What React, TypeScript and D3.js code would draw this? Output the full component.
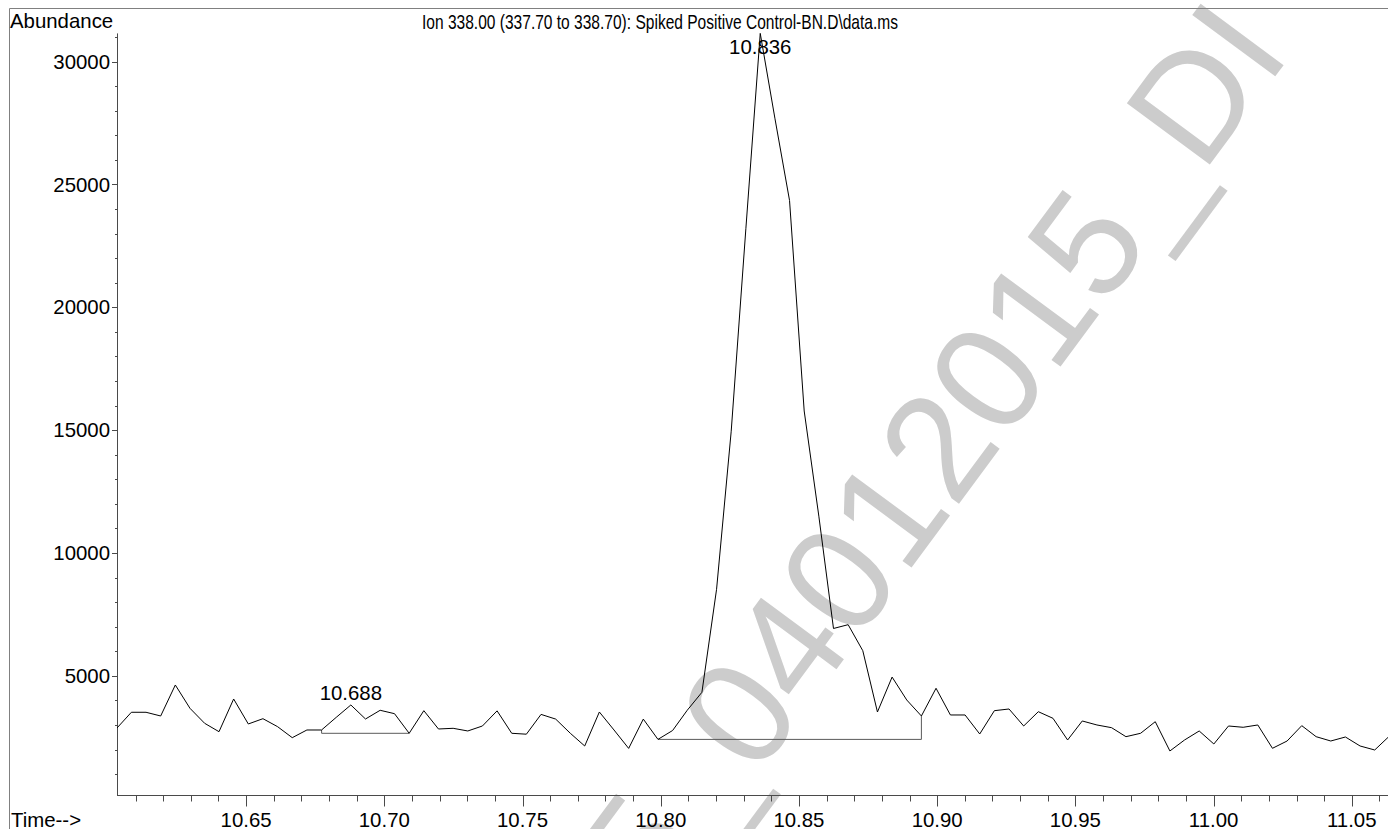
import React from "react";
import * as d3 from "d3";

// Extracted ion chromatogram, m/z 338 — scan times (min) and abundances
const times = [
  10.6032, 10.6085, 10.6138, 10.6191, 10.6244, 10.6297, 10.635, 10.6402, 10.6455, 10.6508,
  10.6561, 10.6614, 10.6667, 10.672, 10.6773, 10.6826, 10.6879, 10.6932, 10.6985, 10.7037,
  10.709, 10.7143, 10.7196, 10.7249, 10.7302, 10.7355, 10.7408, 10.7461, 10.7514, 10.7567,
  10.762, 10.7673, 10.7725, 10.7778, 10.7831, 10.7884, 10.7937, 10.799, 10.8043, 10.8096,
  10.8149, 10.8202, 10.8255, 10.8308, 10.836, 10.8413, 10.8466, 10.8519, 10.8572, 10.8625,
  10.8678, 10.8731, 10.8784, 10.8837, 10.889, 10.8943, 10.8996, 10.9048, 10.9101, 10.9154,
  10.9207, 10.926, 10.9313, 10.9366, 10.9419, 10.9472, 10.9525, 10.9578, 10.9631, 10.9683,
  10.9736, 10.9789, 10.9842, 10.9895, 10.9948, 11.0001, 11.0054, 11.0107, 11.016, 11.0213,
  11.0266, 11.0319, 11.0371, 11.0424, 11.0477, 11.053, 11.0583, 11.0636,
];

const abundance = [
  2865, 3517, 3517, 3366, 4628, 3679, 3069, 2727, 4058, 3041,
  3256, 2931, 2483, 2796, 2796, 3310, 3814, 3244, 3598, 3460,
  2662, 3582, 2837, 2865, 2756, 2959, 3575, 2662, 2625, 3431,
  3240, 2662, 2145, 3529, 2796, 2047, 3240, 2414, 2776, 3600,
  4330, 8523, 14958, 23200, 31150, 27700, 24350, 15780, 11500, 6928,
  7083, 6024, 3529, 4950, 4017, 3366, 4494, 3407, 3407, 2633,
  3582, 3651, 2959, 3541, 3272, 2389, 3163, 3000, 2890, 2524,
  2662, 3134, 1942, 2389, 2756, 2226, 2959, 2906, 3000, 2051,
  2348, 2972, 2524, 2348, 2511, 2145, 1982, 2548,
];

// Integrated peaks: start scan, end scan, apex scan, apex label
const peakStart = [14, 37];
const peakEnd = [20, 55];
const peakApex = [16, 44];
const peakLabel = ["10.688", "10.836"];

const xTickLabels = ["10.65", "10.70", "10.75", "10.80", "10.85", "10.90", "10.95", "11.00", "11.05"];
const yTickLabels = ["5000", "10000", "15000", "20000", "25000", "30000"];

const titleText = "Ion 338.00 (337.70 to 338.70): Spiked Positive Control-BN.D\\data.ms";
const watermarkHead = "5_";
const watermarkTail = "04012015_DI";

const W = 1388;
const H = 829;
const FONT = "'Liberation Sans', Arial, Helvetica, sans-serif";
const FS = 20.4;

export default function App() {
  const left = 117;
  const right = 1388;
  const top = 33.4;
  const bottom = 795;

  const x = d3.scaleLinear().domain([10.6033, 11.0631]).range([left, right]);
  const y = d3.scaleLinear().domain([150, 31150]).range([bottom, top]);

  const pts: [number, number][] = times.map((t, i) => [t, abundance[i]]);
  const line = d3
    .line<[number, number]>()
    .x((d) => x(d[0]))
    .y((d) => y(d[1]));

  const xMinor = d3.range(61, 107).map((k) => 10 + k / 100);
  const xMajor = xTickLabels.map(Number);
  const yMinor = d3.range(1, 32).map((k) => k * 1000).filter((v) => v % 5000 !== 0);
  const yMajor = yTickLabels.map(Number);

  const axisColor = "#4a4a4a";

  return (
    <svg
      width={W}
      height={H}
      style={{ position: "absolute", left: 0, top: 0, background: "#fff" }}
      fontFamily={FONT}
    >
      <defs>
        <clipPath id="plotClip">
          <rect x={left} y={0} width={right - left} height={bottom} />
        </clipPath>
      </defs>

      {/* background watermark */}
      <g transform="translate(756,778) rotate(-53.5)" fill="#cccccc" fontSize={150} fontFamily={FONT}>
        <text x={0} y={0}>{watermarkTail}</text>
        <text x={0} y={0} textAnchor="end">{watermarkHead}</text>
      </g>

      {/* outer frame */}
      <line x1={9.5} y1={8.5} x2={W} y2={8.5} stroke="#808080" strokeWidth={1} />
      <line x1={9.5} y1={8.5} x2={9.5} y2={H} stroke="#808080" strokeWidth={1} />

      {/* axes */}
      <line x1={left + 0.5} y1={top} x2={left + 0.5} y2={bottom + 0.5} stroke={axisColor} strokeWidth={1} />
      <line x1={left} y1={bottom + 0.5} x2={right} y2={bottom + 0.5} stroke={axisColor} strokeWidth={1} />

      {yMinor.map((v) => (
        <line key={"ym" + v} x1={left - 2} x2={left + 0.5} y1={Math.round(y(v)) + 0.5} y2={Math.round(y(v)) + 0.5} stroke={axisColor} />
      ))}
      {yMajor.map((v, i) => (
        <g key={"yM" + v}>
          <line x1={left - 5} x2={left + 0.5} y1={Math.round(y(v)) + 0.5} y2={Math.round(y(v)) + 0.5} stroke={axisColor} />
          <text x={110} y={y(v)} dy="0.35em" textAnchor="end" fontSize={FS} fill="#000">
            {yTickLabels[i]}
          </text>
        </g>
      ))}

      {xMinor
        .filter((t) => x(t) >= left && x(t) <= right)
        .map((t) => (
          <line key={"xm" + t} x1={Math.round(x(t)) + 0.5} x2={Math.round(x(t)) + 0.5} y1={bottom} y2={bottom + 6.5} stroke={axisColor} />
        ))}
      {xMajor.map((t, i) => (
        <g key={"xM" + t}>
          <line x1={Math.round(x(t)) + 0.5} x2={Math.round(x(t)) + 0.5} y1={bottom} y2={bottom + 11.5} stroke={axisColor} />
          <text x={x(t)} y={826.5} textAnchor="middle" fontSize={FS} fill="#000">
            {xTickLabels[i]}
          </text>
        </g>
      ))}

      {/* integration baselines */}
      {peakStart.map((s, k) => {
        const e = peakEnd[k];
        const base = Math.min(abundance[s], abundance[e]);
        const d = [
          [x(times[s]), y(abundance[s])],
          [x(times[s]), y(base)],
          [x(times[e]), y(base)],
          [x(times[e]), y(abundance[e])],
        ]
          .map((p, j) => (j === 0 ? "M" : "L") + p[0].toFixed(1) + "," + p[1].toFixed(1))
          .join("");
        return <path key={"bl" + k} d={d} fill="none" stroke="#5a5a5a" strokeWidth={1} />;
      })}

      {/* chromatogram trace */}
      <path d={line(pts) || ""} fill="none" stroke="#000" strokeWidth={1} clipPath="url(#plotClip)" />

      {/* peak retention-time labels */}
      {peakApex.map((a, k) => (
        <text
          key={"pl" + k}
          x={x(times[a])}
          y={Math.max(y(abundance[a]) - 5, 53.5)}
          textAnchor="middle"
          fontSize={FS}
          fill="#000"
        >
          {peakLabel[k]}
        </text>
      ))}

      {/* titles */}
      <text x={10} y={28} fontSize={FS} fill="#000">Abundance</text>
      <text x={660} y={28.5} textAnchor="middle" fontSize={FS} fill="#000" textLength={476} lengthAdjust="spacingAndGlyphs">
        {titleText}
      </text>
      <text x={11} y={826.5} fontSize={FS} fill="#000">Time--&gt;</text>
    </svg>
  );
}
